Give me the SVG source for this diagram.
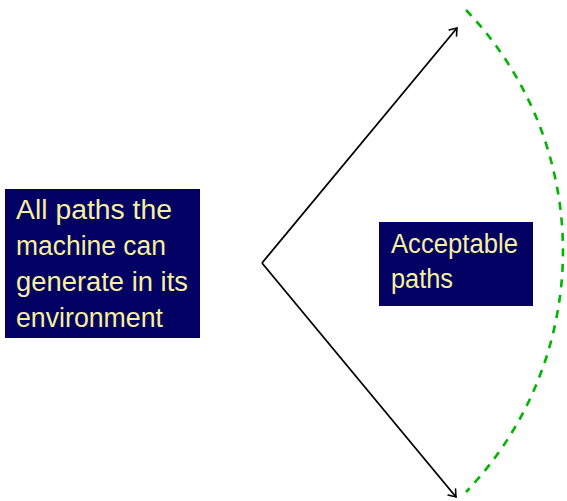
<svg xmlns="http://www.w3.org/2000/svg" width="567" height="501" viewBox="0 0 567 501">
  <style>
    .box { fill: #020063; }
    .label { font-family: "Liberation Sans", Arial, sans-serif; font-size: 27px; fill: #f5f09c; }
    .edge { fill: none; stroke: #000; stroke-width: 1.8; }
    .bound { fill: none; stroke: #00b400; stroke-width: 2.6; stroke-dasharray: 8 7.5; }
  </style>
  <defs>
    <marker id="arrow" viewBox="-8 -6 10 12" markerWidth="10" markerHeight="12" refX="0" refY="0" orient="auto" markerUnits="userSpaceOnUse">
      <path d="M -6.5 -4.8 Q -1.5 -1 0 0 Q -1.5 1 -6.5 4.8" fill="none" stroke="#000" stroke-width="1.6" stroke-linecap="round"/>
    </marker>
  </defs>

  <g id="connectors">
    <path class="edge" d="M 262 263 L 457 28" marker-end="url(#arrow)"/>
    <path class="edge" d="M 262 263 L 456 497" marker-end="url(#arrow)"/>
    <path class="bound" d="M 466 10 A 348 348 0 0 1 466 492"/>
  </g>

  <g id="all-paths">
    <rect class="box" x="5" y="189" width="195" height="149"/>
    <text class="label" x="16" y="219" textLength="156" lengthAdjust="spacingAndGlyphs">All paths the</text>
    <text class="label" x="16" y="255" textLength="150" lengthAdjust="spacingAndGlyphs">machine can</text>
    <text class="label" x="16" y="291" textLength="172" lengthAdjust="spacingAndGlyphs">generate in its</text>
    <text class="label" x="16" y="327" textLength="147" lengthAdjust="spacingAndGlyphs">environment</text>
  </g>

  <g id="acceptable-paths">
    <rect class="box" x="379" y="222" width="154" height="84"/>
    <text class="label" x="391" y="253" textLength="127" lengthAdjust="spacingAndGlyphs">Acceptable</text>
    <text class="label" x="391" y="288" textLength="62" lengthAdjust="spacingAndGlyphs">paths</text>
  </g>
</svg>
